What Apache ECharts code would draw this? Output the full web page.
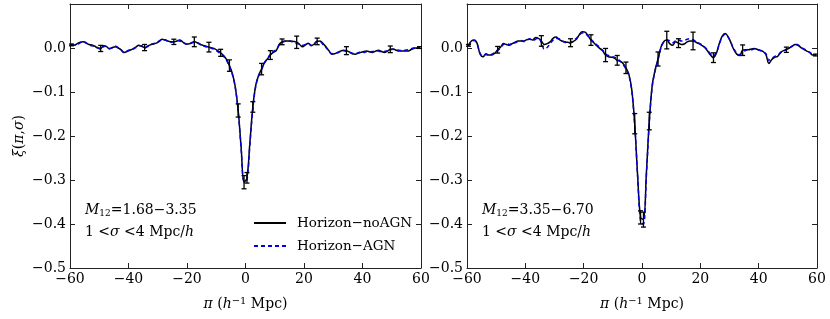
<!DOCTYPE html>
<html><head><meta charset="utf-8">
<script src="https://cdn.jsdelivr.net/npm/echarts@6/dist/echarts.min.js"></script>
<style>html,body{margin:0;padding:0;background:#fff}#c{width:830px;height:319px}</style>
</head><body><div id="c"></div>
<script>
// pi bin centres (h^-1 Mpc)
const piBins = [
-59.5,-58.5,-57.5,-56.5,-55.5,-54.5,-53.5,-52.5,-51.5,-50.5,
-49.5,-48.5,-47.5,-46.5,-45.5,-44.5,-43.5,-42.5,-41.5,-40.5,
-39.5,-38.5,-37.5,-36.5,-35.5,-34.5,-33.5,-32.5,-31.5,-30.5,
-29.5,-28.5,-27.5,-26.5,-25.5,-24.5,-23.5,-22.5,-21.5,-20.5,
-19.5,-18.5,-17.5,-16.5,-15.5,-14.5,-13.5,-12.5,-11.5,-10.5,
-9.5,-8.5,-7.5,-6.5,-5.5,-4.5,-3.5,-2.5,-1.5,-0.5,
0.5,1.5,2.5,3.5,4.5,5.5,6.5,7.5,8.5,9.5,
10.5,11.5,12.5,13.5,14.5,15.5,16.5,17.5,18.5,19.5,
20.5,21.5,22.5,23.5,24.5,25.5,26.5,27.5,28.5,29.5,
30.5,31.5,32.5,33.5,34.5,35.5,36.5,37.5,38.5,39.5,
40.5,41.5,42.5,43.5,44.5,45.5,46.5,47.5,48.5,49.5,
50.5,51.5,52.5,53.5,54.5,55.5,56.5,57.5,58.5,59.5];

// Left panel: M12 = 1.68-3.35
const leftNoAGN = [
0.007,0.006,0.010,0.013,0.014,0.011,0.008,0.007,0.004,0.000,
-0.001,0.005,0.003,-0.002,0.001,0.003,0.000,-0.004,-0.010,-0.008,
-0.005,-0.002,0.002,0.006,0.004,0.001,0.004,0.007,0.009,0.011,
0.015,0.020,0.018,0.016,0.014,0.014,0.016,0.018,0.014,0.009,
0.009,0.012,0.014,0.012,0.008,0.006,0.004,0.002,0.000,-0.002,
-0.006,-0.011,-0.017,-0.026,-0.040,-0.058,-0.088,-0.142,-0.225,-0.305,
-0.295,-0.215,-0.134,-0.085,-0.062,-0.048,-0.033,-0.025,-0.016,-0.010,
-0.006,0.008,0.014,0.016,0.016,0.016,0.015,0.013,0.008,0.003,
0.007,0.011,0.005,0.009,0.015,0.016,0.010,0.003,-0.006,-0.014,
-0.013,-0.010,-0.007,-0.005,-0.006,-0.009,-0.013,-0.014,-0.012,-0.010,
-0.008,-0.007,-0.009,-0.010,-0.007,-0.005,-0.008,-0.010,-0.007,-0.003,
-0.002,-0.005,-0.007,-0.007,-0.007,-0.007,-0.004,-0.001,0.000,0.001];
const leftAGN = [
0.009,0.006,0.008,0.012,0.015,0.012,0.007,0.005,0.004,0.001,
-0.003,0.003,0.004,-0.001,0.000,0.004,0.001,-0.005,-0.011,-0.007,
-0.004,-0.003,0.001,0.005,0.005,0.000,0.003,0.008,0.010,0.012,
0.016,0.019,0.019,0.015,0.013,0.015,0.017,0.016,0.013,0.010,
0.008,0.011,0.013,0.012,0.009,0.005,0.003,0.001,-0.001,-0.004,
-0.008,-0.013,-0.019,-0.028,-0.042,-0.060,-0.090,-0.144,-0.228,-0.303,
-0.300,-0.220,-0.138,-0.087,-0.063,-0.049,-0.034,-0.024,-0.014,-0.008,
-0.004,0.006,0.012,0.015,0.016,0.015,0.012,0.010,0.009,0.006,
0.008,0.010,0.006,0.010,0.016,0.015,0.008,0.001,-0.007,-0.013,
-0.012,-0.011,-0.008,-0.006,-0.008,-0.010,-0.012,-0.013,-0.011,-0.009,
-0.010,-0.008,-0.009,-0.008,-0.006,-0.007,-0.009,-0.008,-0.006,-0.004,
-0.003,-0.004,-0.005,-0.006,-0.005,-0.004,-0.002,0.000,0.001,0.001];

// Right panel: M12 = 3.35-6.70
const rightNoAGN = [
0.006,0.016,0.018,0.010,-0.014,-0.020,-0.013,-0.016,-0.016,-0.012,
-0.004,0.002,0.010,0.008,0.006,0.010,0.013,0.016,0.016,0.016,
0.019,0.020,0.018,0.024,0.022,0.016,0.008,0.010,0.014,0.022,
0.025,0.020,0.016,0.014,0.013,0.012,0.015,0.020,0.030,0.037,
0.036,0.028,0.018,0.012,0.005,-0.001,-0.006,-0.016,-0.020,-0.021,
-0.023,-0.028,-0.030,-0.035,-0.045,-0.060,-0.095,-0.172,-0.290,-0.385,
-0.390,-0.285,-0.166,-0.085,-0.050,-0.025,0.002,0.015,0.018,0.010,
0.006,0.014,0.011,0.008,0.009,0.014,0.016,0.016,0.013,0.010,
0.006,0.001,-0.007,-0.016,-0.022,-0.012,0.010,0.027,0.033,0.026,
0.012,-0.004,-0.014,-0.017,-0.005,-0.004,-0.004,-0.002,-0.001,-0.003,
-0.005,-0.008,-0.015,-0.035,-0.026,-0.021,-0.019,-0.010,-0.006,-0.004,
0.000,0.004,0.008,0.006,0.001,-0.003,-0.007,-0.010,-0.016,-0.016];
const rightAGN = [
0.004,0.014,0.017,0.008,-0.012,-0.018,-0.015,-0.017,-0.014,-0.010,
-0.006,0.000,0.008,0.010,0.008,0.011,0.012,0.015,0.017,0.015,
0.018,0.021,0.017,0.020,0.023,0.012,-0.003,0.001,0.010,0.018,
0.022,0.021,0.017,0.013,0.011,0.013,0.017,0.022,0.030,0.034,
0.033,0.027,0.020,0.013,0.007,0.002,-0.005,-0.013,-0.017,-0.019,
-0.021,-0.024,-0.030,-0.037,-0.048,-0.062,-0.098,-0.175,-0.292,-0.395,
-0.400,-0.290,-0.170,-0.088,-0.052,-0.027,0.000,0.014,0.019,0.016,
0.012,0.016,0.018,0.016,0.017,0.020,0.021,0.019,0.015,0.011,
0.007,0.002,-0.005,-0.013,-0.018,-0.010,0.008,0.025,0.031,0.025,
0.012,-0.002,-0.012,-0.015,-0.010,-0.006,-0.003,-0.004,-0.002,-0.004,
-0.006,-0.009,-0.013,-0.028,-0.024,-0.019,-0.017,-0.011,-0.007,-0.003,
0.000,0.004,0.009,0.007,0.002,-0.002,-0.006,-0.010,-0.014,-0.015];

// error bars (on Horizon-noAGN)
const errPi = [-59.5,-49.5,-34.5,-24.5,-17.5,-12.5,-8.5,-5.5,-2.5,-0.5,0.5,2.5,5.5,8.5,12.5,17.5,24.5,34.5,49.5,59.5];
const leftErr  = [0.002,0.007,0.007,0.006,0.011,0.011,0.008,0.013,0.015,0.015,0.012,0.012,0.013,0.010,0.0065,0.014,0.0075,0.009,0.0075,0.002];
const rightErr = [0.002,0.0075,0.012,0.009,0.012,0.015,0.011,0.013,0.023,0.015,0.017,0.020,0.016,0.020,0.010,0.020,0.011,0.012,0.006,0.002];

const xTicks = [-60,-40,-20,0,20,40,60];
const yTicks = [-0.5,-0.4,-0.3,-0.2,-0.1,0.0];
const seriesNames = ['Horizon\u2212noAGN','Horizon\u2212AGN'];
const panelLabels = ['1.68\u22123.35','3.35\u22126.70'];

const FONT = 'DejaVu Serif';
const FS = 14;
const minus = s => String(s).replace('-', '\u2212');

const chart = echarts.init(document.getElementById('c'), null, {renderer:'canvas'});

const grids = [
  {left:70, top:4, width:351, height:264},
  {left:467, top:4, width:350, height:264}
];
const axisLine = {show:true, onZero:false, lineStyle:{color:'#222', width:1}};
const tick = {show:true, inside:true, length:5, lineStyle:{color:'#222', width:1}};

const xAxes = [], yAxes = [];
grids.forEach((g, gi) => {
  xAxes.push({
    gridIndex:gi, type:'value', min:-60, max:60, interval:20, position:'bottom',
    axisLine, axisTick:tick, splitLine:{show:false},
    axisLabel:{show:true, margin:4, color:'#000', fontFamily:FONT, fontSize:FS,
      showMinLabel:true, showMaxLabel:true,
      formatter: v => xTicks.includes(v) ? minus(v) : ''},
    name:'{i|\u03c0} ({i|h}{sup|\u22121} Mpc)', nameLocation:'middle', nameGap:28,
    nameTextStyle:{color:'#000', fontFamily:FONT, fontSize:FS,
      rich:{i:{fontStyle:'italic', fontFamily:FONT, fontSize:FS, color:'#000'},
            sup:{fontFamily:FONT, fontSize:10, color:'#000', padding:[0,0,7,0]}}}
  });
  xAxes.push({
    gridIndex:gi, type:'value', min:-60, max:60, interval:20, position:'top',
    axisLine, axisTick:tick, axisLabel:{show:false}, splitLine:{show:false}
  });
  const yLab = {
    gridIndex:gi, type:'value', min:-0.5, max:0.1, interval:0.1, position:'left',
    axisLine, axisTick:tick, splitLine:{show:false},
    axisLabel:{show:true, margin:4, color:'#000', fontFamily:FONT, fontSize:FS,
      showMinLabel:true, showMaxLabel:true,
      formatter: v => {
        if (v > 0.05) return '';
        if (Math.abs(v) < 1e-9) return '0.0';
        return minus(v.toFixed(1));
      }}
  };
  if (gi === 0) {
    yLab.name = '{i|\u03be}({i|\u03c0},{i|\u03c3})';
    yLab.nameLocation = 'middle';
    yLab.nameGap = 44;
    yLab.nameTextStyle = {color:'#000', fontFamily:FONT, fontSize:FS,
      rich:{i:{fontStyle:'italic', fontFamily:FONT, fontSize:FS, color:'#000'}}};
  }
  yAxes.push(yLab);
  yAxes.push({
    gridIndex:gi, type:'value', min:-0.5, max:0.1, interval:0.1, position:'right',
    axisLine, axisTick:tick, axisLabel:{show:false}, splitLine:{show:false}
  });
});

function errRender(params, api) {
  const x = api.value(0), lo = api.value(1), hi = api.value(2);
  const p1 = api.coord([x, hi]), p2 = api.coord([x, lo]);
  const w = 2.5;
  const st = {stroke:'#000', lineWidth:1.3};
  return {type:'group', children:[
    {type:'line', shape:{x1:p1[0], y1:p1[1], x2:p2[0], y2:p2[1]}, style:st},
    {type:'line', shape:{x1:p1[0]-w, y1:p1[1], x2:p1[0]+w, y2:p1[1]}, style:st},
    {type:'line', shape:{x1:p2[0]-w, y1:p2[1], x2:p2[0]+w, y2:p2[1]}, style:st}
  ]};
}

const panels = [
  {noagn:leftNoAGN, agn:leftAGN, err:leftErr},
  {noagn:rightNoAGN, agn:rightAGN, err:rightErr}
];
const series = [];
panels.forEach((p, gi) => {
  series.push({
    name:seriesNames[0], type:'line', xAxisIndex:gi*2, yAxisIndex:gi*2,
    data: piBins.map((x,i) => [x, p.noagn[i]]), symbol:'none', smooth:0.35,
    lineStyle:{color:'#000', width:1.5}, itemStyle:{color:'#000'}, z:3, animation:false
  });
  series.push({
    name:seriesNames[1], type:'line', xAxisIndex:gi*2, yAxisIndex:gi*2,
    data: piBins.map((x,i) => [x, p.agn[i]]), symbol:'none', smooth:0.35,
    lineStyle:{color:'#0000ee', width:1.5, type:[4,3]}, itemStyle:{color:'#0000ee'}, z:4, animation:false
  });
  series.push({
    type:'custom', xAxisIndex:gi*2, yAxisIndex:gi*2, renderItem:errRender,
    encode:{x:0, y:[1,2]}, z:5, animation:false,
    data: errPi.map((x,k) => {
      const c = p.noagn[piBins.indexOf(x)];
      return [x, c - p.err[k], c + p.err[k]];
    })
  });
});

const rich = {
  i:{fontStyle:'italic', fontFamily:FONT, fontSize:FS, fill:'#000'},
  s:{fontFamily:FONT, fontSize:9, fill:'#000', padding:[8,0,0,0]},
  n:{fontFamily:FONT, fontSize:FS, fill:'#000'}
};
function annot(x, label) {
  return [
    {type:'text', left:x, top:203, style:{text:'{i|M}{s|12}{n|=' + label + '}', rich, font:FS+'px '+FONT, fill:'#000'}},
    {type:'text', left:x, top:225, style:{text:'{n|1 <}{i|\u03c3}{n| <4 Mpc/}{i|h}', rich, font:FS+'px '+FONT, fill:'#000'}}
  ];
}

chart.setOption({
  animation:false,
  backgroundColor:'#fff',
  grid: grids,
  xAxis: xAxes,
  yAxis: yAxes,
  legend: {
    data: seriesNames, orient:'vertical', left:253, top:216, padding:0,
    itemWidth:32, itemHeight:14, itemGap:9, selectedMode:false,
    itemStyle:{opacity:0},
    textStyle:{fontFamily:FONT, fontSize:13.5, color:'#000', padding:[0,0,0,6]}
  },
  graphic: [].concat(annot(85, panelLabels[0]), annot(482, panelLabels[1])),
  series
});
</script></body></html>
